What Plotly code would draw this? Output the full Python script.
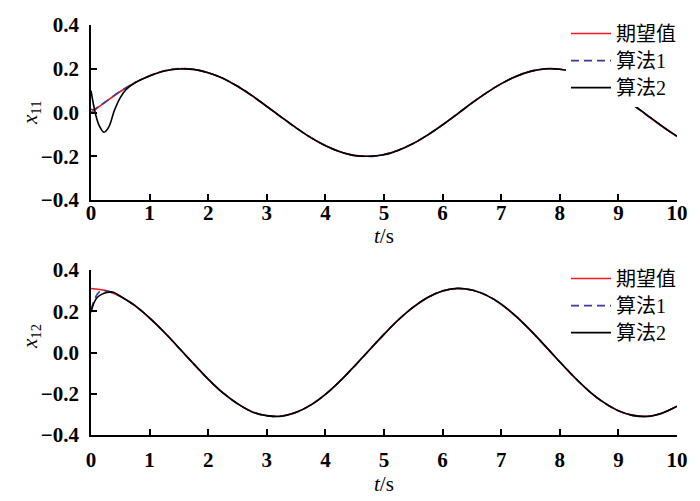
import plotly.graph_objects as go

# ---------------- data ----------------
t_ref = [0, 0.25, 0.5, 0.75, 1.0, 1.25, 1.5, 1.75, 2.0, 2.25, 2.5, 2.75, 3.0, 3.25, 3.5, 3.75,
         4.0, 4.25, 4.5, 4.75, 5.0, 5.25, 5.5, 5.75, 6.0, 6.25, 6.5, 6.75, 7.0, 7.25, 7.5, 7.75,
         8.0, 8.25, 8.5, 8.75, 9.0, 9.25, 9.5, 9.75, 10.0]

# x11 desired (期望值)
x11_ref = [0.000, 0.049, 0.096, 0.136, 0.168, 0.190, 0.200, 0.197, 0.182, 0.156, 0.120, 0.076,
           0.028, -0.022, -0.070, -0.114, -0.151, -0.179, -0.196, -0.200, -0.192, -0.172, -0.141,
           -0.102, -0.056, -0.007, 0.043, 0.090, 0.131, 0.165, 0.188, 0.199, 0.198, 0.185, 0.160,
           0.125, 0.082, 0.035, -0.015, -0.064, -0.109]

# x11 algorithm 1 (算法1)
t_a1_top = [0, 0.05, 0.1, 0.15, 0.25, 0.5, 0.75, 1.0, 1.25, 1.5, 1.75, 2.0, 2.25, 2.5, 2.75, 3.0,
            3.25, 3.5, 3.75, 4.0, 4.25, 4.5, 4.75, 5.0, 5.25, 5.5, 5.75, 6.0, 6.25, 6.5, 6.75, 7.0,
            7.25, 7.5, 7.75, 8.0, 8.25, 8.5, 8.75, 9.0, 9.25, 9.5, 9.75, 10.0]
x11_a1 = [0.015, 0.012, 0.022, 0.031, 0.049, 0.097, 0.137, 0.168, 0.191, 0.201, 0.197, 0.181,
          0.156, 0.121, 0.076, 0.027, -0.022, -0.071, -0.114, -0.151, -0.180, -0.196, -0.201,
          -0.192, -0.171, -0.141, -0.102, -0.056, -0.008, 0.043, 0.091, 0.131, 0.165, 0.189,
          0.199, 0.198, 0.184, 0.160, 0.125, 0.082, 0.035, -0.015, -0.064, -0.110]

# x11 algorithm 2 (算法2)
t_a2_top = [0, 0.04, 0.08, 0.14, 0.22, 0.3, 0.4, 0.5, 0.6, 0.75, 1.0, 1.25, 1.5, 1.75, 2.0, 2.25,
            2.5, 2.75, 3.0, 3.25, 3.5, 3.75, 4.0, 4.25, 4.5, 4.75, 5.0, 5.25, 5.5, 5.75, 6.0, 6.25,
            6.5, 6.75, 7.0, 7.25, 7.5, 7.75, 8.0, 8.25, 8.5, 8.75, 9.0, 9.25, 9.5, 9.75, 10.0]
x11_a2 = [0.100, 0.040, -0.010, -0.060, -0.090, -0.068, 0.010, 0.068, 0.105, 0.136, 0.167, 0.190,
          0.199, 0.197, 0.182, 0.157, 0.120, 0.077, 0.028, -0.021, -0.070, -0.115, -0.152,
          -0.179, -0.197, -0.200, -0.193, -0.172, -0.142, -0.102, -0.057, -0.007, 0.044, 0.090,
          0.132, 0.165, 0.188, 0.200, 0.198, 0.185, 0.160, 0.126, 0.082, 0.036, -0.014, -0.063,
          -0.109]

# x12 desired (期望值)
x12_ref = [0.310, 0.300, 0.272, 0.227, 0.167, 0.098, 0.022, -0.055, -0.129, -0.195, -0.248,
           -0.287, -0.307, -0.308, -0.290, -0.254, -0.203, -0.138, -0.065, 0.012, 0.088, 0.159,
           0.220, 0.267, 0.298, 0.310, 0.303, 0.277, 0.234, 0.176, 0.107, 0.032, -0.045, -0.120,
           -0.187, -0.242, -0.282, -0.305, -0.309, -0.294, -0.260]

# x12 algorithm 1 (算法1)
t_a1_bot = [0, 0.05, 0.1, 0.15, 0.2, 0.3, 0.5, 0.75, 1.0, 1.25, 1.5, 1.75, 2.0, 2.25, 2.5, 2.75,
            3.0, 3.25, 3.5, 3.75, 4.0, 4.25, 4.5, 4.75, 5.0, 5.25, 5.5, 5.75, 6.0, 6.25, 6.5, 6.75,
            7.0, 7.25, 7.5, 7.75, 8.0, 8.25, 8.5, 8.75, 9.0, 9.25, 9.5, 9.75, 10.0]
x12_a1 = [0.205, 0.250, 0.280, 0.295, 0.300, 0.297, 0.272, 0.228, 0.166, 0.099, 0.021, -0.055,
          -0.130, -0.195, -0.249, -0.287, -0.308, -0.308, -0.291, -0.254, -0.204, -0.138,
          -0.066, 0.012, 0.089, 0.159, 0.221, 0.267, 0.299, 0.310, 0.303, 0.278, 0.234, 0.176,
          0.107, 0.031, -0.045, -0.121, -0.187, -0.243, -0.282, -0.306, -0.309, -0.294, -0.260]

# x12 algorithm 2 (算法2)
t_a2_bot = [0, 0.05, 0.1, 0.18, 0.27, 0.37, 0.5, 0.75, 1.0, 1.25, 1.5, 1.75, 2.0, 2.25, 2.5,
            2.75, 3.0, 3.25, 3.5, 3.75, 4.0, 4.25, 4.5, 4.75, 5.0, 5.25, 5.5, 5.75, 6.0, 6.25,
            6.5, 6.75, 7.0, 7.25, 7.5, 7.75, 8.0, 8.25, 8.5, 8.75, 9.0, 9.25, 9.5, 9.75, 10.0]
x12_a2 = [0.195, 0.240, 0.265, 0.282, 0.291, 0.293, 0.273, 0.227, 0.168, 0.098, 0.023, -0.054,
          -0.129, -0.196, -0.248, -0.288, -0.306, -0.309, -0.290, -0.255, -0.203, -0.139,
          -0.064, 0.012, 0.088, 0.160, 0.220, 0.268, 0.298, 0.311, 0.303, 0.277, 0.235, 0.176,
          0.107, 0.032, -0.046, -0.120, -0.188, -0.242, -0.283, -0.305, -0.310, -0.293, -0.261]

series_names = ["期望值", "算法1", "算法2"]
x_ticks = [0, 1, 2, 3, 4, 5, 6, 7, 8, 9, 10]
y_ticks = [-0.4, -0.2, 0.0, 0.2, 0.4]
y_ticktext = ["\u22120.4", "\u22120.2", "0.0", "0.2", "0.4"]

# ---------------- figure ----------------
SERIF = "Liberation Serif"
LEG_FONT = "Liberation Serif, Noto Sans CJK SC"

styles = [dict(color="#ee1c1c", width=1.6),
          dict(color="#3a3a9a", width=1.6, dash="8px,5px"),
          dict(color="#000000", width=1.6)]


def leg_name(s):
    return '<span style="font-size:20px">' + s + "</span>"


fig = go.Figure()

top = [(t_ref, x11_ref), (t_a1_top, x11_a1), (t_a2_top, x11_a2)]
bot = [(t_ref, x12_ref), (t_a1_bot, x12_a1), (t_a2_bot, x12_a2)]

for i, (tx, ty) in enumerate(top):
    fig.add_trace(go.Scatter(x=tx, y=ty, mode="lines", name=leg_name(series_names[i]),
                             line=dict(shape="spline", smoothing=1.0, **styles[i]),
                             xaxis="x", yaxis="y", legend="legend"))
for i, (tx, ty) in enumerate(bot):
    fig.add_trace(go.Scatter(x=tx, y=ty, mode="lines", name=leg_name(series_names[i]),
                             line=dict(shape="spline", smoothing=1.0, **styles[i]),
                             xaxis="x2", yaxis="y2", legend="legend2"))

W, H = 700, 501
OFF = 8  # page body margin of the html page


def px_x(sx):
    return (sx - OFF) / W


def px_y(sy):
    return 1 - (sy - OFF) / H


xdom = [px_x(91), px_x(677)]
top_ydom = [px_y(200), px_y(25)]
bot_ydom = [px_y(435), px_y(270)]

tickfont = dict(family=SERIF, size=21, color="black", weight="bold")


def xax(domain_anchor, standoff):
    return dict(domain=xdom, anchor=domain_anchor, range=[0, 10], tickvals=x_ticks,
                ticks="inside", ticklen=6, tickwidth=1.5, tickcolor="black",
                showline=True, linecolor="black", linewidth=1.5, showgrid=False,
                zeroline=False, tickfont=tickfont, ticklabelstandoff=standoff,
                automargin=False)


def yax(domain, anchor):
    return dict(domain=domain, anchor=anchor, range=[-0.4, 0.4], tickvals=y_ticks,
                ticktext=y_ticktext, ticks="inside", ticklen=6, tickwidth=1.5,
                tickcolor="black", showline=True, linecolor="black", linewidth=1.5,
                showgrid=False, zeroline=False, tickfont=tickfont, ticklabelstandoff=6,
                automargin=False)


legend_common = dict(xanchor="left", yanchor="top", bgcolor="white", borderwidth=0,
                     font=dict(family=LEG_FONT, size=18.5, color="black"),
                     itemwidth=40, tracegroupgap=0, itemclick=False)

fig.update_layout(
    width=W, height=H, autosize=False,
    margin=dict(l=0, r=0, t=0, b=0, pad=0, autoexpand=False),
    paper_bgcolor="white", plot_bgcolor="white",
    xaxis=xax("y", -7), yaxis=yax(top_ydom, "x"),
    xaxis2=xax("y2", 5), yaxis2=yax(bot_ydom, "x2"),
    legend=dict(x=px_x(566), y=px_y(15), **legend_common),
    legend2=dict(x=px_x(566), y=px_y(260), **legend_common),
    showlegend=True,
)

ann_font = dict(family=SERIF, size=21, color="black")
ann_common = dict(xref="paper", yref="paper", showarrow=False, font=ann_font,
                  xanchor="center", yanchor="middle")
fig.add_annotation(text="<i>x</i><sub>11</sub>", x=px_x(31), y=px_y(113), textangle=-90,
                   **ann_common)
fig.add_annotation(text="<i>x</i><sub>12</sub>", x=px_x(31), y=px_y(337), textangle=-90,
                   **ann_common)
fig.add_annotation(text="<i>t</i>/s", x=px_x(384), y=px_y(236), **ann_common)
fig.add_annotation(text="<i>t</i>/s", x=px_x(384), y=px_y(484), **ann_common)

fig.write_html("out.html")
